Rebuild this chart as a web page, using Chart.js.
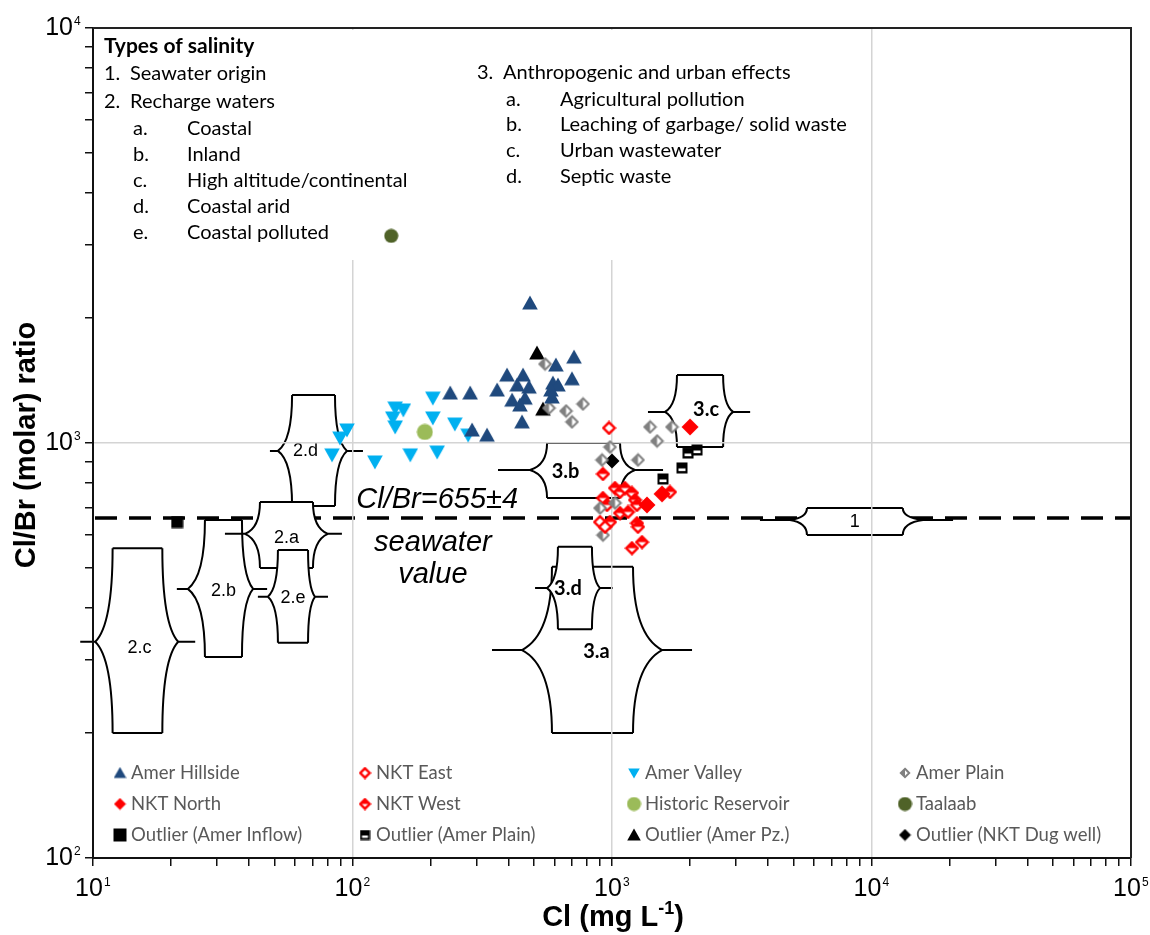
<!DOCTYPE html>
<html>
<head>
<meta charset="utf-8">
<script src="https://cdn.jsdelivr.net/npm/chart.js@4.4.1/dist/chart.umd.min.js"></script>
<style>
  html, body { margin: 0; background: #fff; }
  #wrap { width: 1150px; height: 935px; position: relative; }
</style>
</head>
<body>
<div id="wrap"><canvas id="chart"></canvas></div>
<script>
// ---- data (Cl in mg/L, Cl/Br molar ratio) ----
const amerHillside = [[483, 2175], [714, 1611], [608, 1542], [394, 1458], [454, 1458], [361, 1342], [431, 1380],
  [479, 1364], [412, 1269], [462, 1283], [442, 1235], [592, 1395], [619, 1380], [582, 1342], [587, 1291],
  [701, 1428], [450, 1124], [238, 1320], [284, 1320], [289, 1075], [330, 1045]];
const nktEast = [[974, 1087], [899, 645], [940, 628]];
const amerValley = [[95.2, 1075], [89.5, 1028], [83.4, 936], [122, 900], [167, 936], [212, 951], [248, 1111],
  [279, 1045], [204, 1149], [204, 1283], [146, 1214], [157, 1201], [143, 1149], [146, 1093]];
const amerPlain = [[552, 1550], [572, 1214], [665, 1194], [773, 1242], [701, 1124], [1401, 1093], [1703, 1093],
  [1491, 1011], [982, 978], [915, 910], [1259, 910], [899, 697], [1027, 717], [923, 600]];
const nktNorth = [[1998, 1093], [1559, 754], [1364, 709]];
const nktWest = [[923, 842], [1027, 779], [1074, 762], [1122, 779], [923, 737], [957, 709], [1194, 758],
  [1227, 729], [1248, 709], [1074, 678], [1153, 682], [982, 645], [1248, 641], [1259, 628], [1305, 577],
  [1194, 558], [1673, 762]];
const historicReservoir = [[190, 1063]];
const taalaab = [[141, 3155]];
const outlierAmerInflow = [[21.1, 645]];
const outlierAmerPlain = [[1963, 946], [2126, 962], [1861, 871], [1572, 819]];
const outlierAmerPz = [[514, 1648], [542, 1207]];
const outlierNktDugWell = [[1000, 905]];

const seawaterRatio = 660;

// salinity type zones (brace boxes)
const zoneNames  = ['2.c', '2.b', '2.d', '2.a', '2.e', '1', '3.c', '3.b', '3.a', '3.d'];
const zoneTipMin = [10.2, 23.2, 51.6, 38.5, 47.2, 4850, 1600, 483, 450, 562];
const zoneBoxMin = [11.9, 27.0, 58.5, 44.0, 51.6, 5640, 1780, 562, 587, 619];
const zoneBoxMax = [18.5, 37.5, 85.6, 70.4, 67.4, 13200, 2680, 1074, 1205, 837];
const zoneTipMax = [21.3, 41.4, 95.2, 80.4, 71.7, 15800, 2930, 1227, 1559, 899];
const zoneTop    = [558, 652, 1305, 721, 552, 697, 1458, 1000, 503, 562];
const zoneMid    = [332, 445, 957, 604, 426, 652, 1188, 861, 317, 447];
const zoneBottom = [200, 305, 705, 500, 330, 600, 978, 737, 200, 356];

// axis ticks
const xTicks = [10, 20, 30, 40, 50, 60, 70, 80, 90, 100, 200, 300, 400, 500, 600, 700, 800, 900,
  1000, 2000, 3000, 4000, 5000, 6000, 7000, 8000, 9000, 10000, 20000, 30000, 40000, 50000, 60000,
  70000, 80000, 90000, 100000];
const yTicks = [100, 200, 300, 400, 500, 600, 700, 800, 900, 1000, 2000, 3000, 4000, 5000, 6000,
  7000, 8000, 9000, 10000];
const xTickLabels = [[10, '1'], [100, '2'], [1000, '3'], [10000, '4'], [100000, '5']];
const yTickLabels = [[100, '2'], [1000, '3'], [10000, '4']];

const leftColumn = [
  ['', 'Types of salinity', true], ['1.', 'Seawater origin'], ['2.', 'Recharge waters'],
  ['a.', 'Coastal', false, true], ['b.', 'Inland', false, true], ['c.', 'High altitude/continental', false, true],
  ['d.', 'Coastal arid', false, true], ['e.', 'Coastal polluted', false, true]
];
const rightColumn = [
  ['3.', 'Anthropogenic and urban effects'], ['a.', 'Agricultural pollution', false, true],
  ['b.', 'Leaching of garbage/ solid waste', false, true], ['c.', 'Urban wastewater', false, true],
  ['d.', 'Septic waste', false, true]
];

// ---- styles ----
const zoneLabelDx = [2, 0, -8, 0, 0, 0, 6, -18, 4, -7];
const zoneLabelDy = [6, 2, 0, 4, 1, 2, -2, 2, 1, 0];
const zoneStubL = [15, 11, 8, 20, 10, 30, 17, 32, 30, 12];
const zoneStubR = [17, 14, 16, 14, 13, 30, 17, 28, 30, 13];

function makeMarker(kind, size, color) {
  const c = document.createElement('canvas');
  c.width = size; c.height = size;
  const g = c.getContext('2d');
  const s = size, m = s / 2;
  const poly = (pts) => {
    g.beginPath();
    g.moveTo(pts[0][0], pts[0][1]);
    pts.slice(1).forEach((p) => g.lineTo(p[0], p[1]));
    g.closePath();
  };
  const dia = [[m, 0.5], [s - 0.5, m], [m, s - 0.5], [0.5, m]];
  const dia2 = [[m, 1.8], [s - 1.8, m], [m, s - 1.8], [1.8, m]];
  g.fillStyle = color; g.strokeStyle = color;
  if (kind === 'up') { poly([[m, 0.5], [s - 0.2, s - 1.5], [0.2, s - 1.5]]); g.fill(); }
  else if (kind === 'down') { poly([[0.2, 1.5], [s - 0.2, 1.5], [m, s - 0.5]]); g.fill(); }
  else if (kind === 'diamond') { poly(dia); g.fill(); }
  else if (kind === 'diamondOpen') {
    poly(dia2); g.fillStyle = '#fff'; g.fill(); g.lineWidth = 2.4; g.stroke();
  } else if (kind === 'diamondHalfLeft') {
    poly(dia2); g.fillStyle = '#fff'; g.fill();
    poly([[m, 1.8], [m, s - 1.8], [1.8, m]]); g.fillStyle = color; g.fill();
    poly(dia2); g.lineWidth = 2; g.stroke();
  } else if (kind === 'diamondHalfTop') {
    poly(dia2); g.fillStyle = '#fff'; g.fill();
    poly([[1.8, m], [m, 1.8], [s - 1.8, m]]); g.fillStyle = color; g.fill();
    poly(dia2); g.lineWidth = 2.4; g.stroke();
  } else if (kind === 'circle') {
    g.beginPath(); g.arc(m, m, m - 0.5, 0, Math.PI * 2); g.fill();
  } else if (kind === 'square') {
    g.fillRect(0.5, 0.5, s - 1, s - 1);
  } else if (kind === 'squareHalf') {
    g.fillRect(0.5, 0.5, s - 1, s - 1);
    g.fillStyle = '#fff';
    g.fillRect(2.5, m + 0.5, s - 5, Math.max(2, s * 0.22));
  }
  return c;
}

const seriesNames = ['Amer Hillside', 'NKT East', 'Amer Valley', 'Amer Plain',
  'NKT North', 'NKT West', 'Historic Reservoir', 'Taalaab',
  'Outlier (Amer Inflow)', 'Outlier (Amer Plain)', 'Outlier (Amer Pz.)', 'Outlier (NKT Dug well)'];
const seriesData = [amerHillside, nktEast, amerValley, amerPlain, nktNorth, nktWest, historicReservoir,
  taalaab, outlierAmerInflow, outlierAmerPlain, outlierAmerPz, outlierNktDugWell];
const seriesMarkers = [
  makeMarker('up', 16, '#1F497D'), makeMarker('diamondOpen', 15, '#FF0000'),
  makeMarker('down', 16, '#00B0F0'), makeMarker('diamondHalfLeft', 15, '#808080'),
  makeMarker('diamond', 18, '#FF0000'), makeMarker('diamondHalfTop', 15, '#FF0000'),
  makeMarker('circle', 17, '#9BBB59'), makeMarker('circle', 15, '#4F6228'),
  makeMarker('square', 13, '#000000'), makeMarker('squareHalf', 12, '#000000'),
  makeMarker('up', 16, '#000000'), makeMarker('diamond', 16, '#000000')
];
const legendMarkers = [
  makeMarker('up', 13, '#1F497D'), makeMarker('diamondOpen', 13, '#FF0000'),
  makeMarker('down', 12, '#00B0F0'), makeMarker('diamondHalfLeft', 12, '#808080'),
  makeMarker('diamond', 13, '#FF0000'), makeMarker('diamondHalfTop', 13, '#FF0000'),
  makeMarker('circle', 15, '#9BBB59'), makeMarker('circle', 15, '#4F6228'),
  makeMarker('square', 14, '#000000'), makeMarker('squareHalf', 11, '#000000'),
  makeMarker('up', 14, '#000000'), makeMarker('diamond', 13, '#000000')
];
const legendColX = [120, 365, 634, 905];
const legendRowY = [773, 804, 835];

function isDecade(v) {
  const l = Math.log10(v);
  return Math.abs(l - Math.round(l)) < 1e-6;
}

function drawSide(ctx, c, t, yT, yM, yB) {
  const dx = t - c;
  let h = yM - yT;
  ctx.moveTo(c, yT);
  ctx.bezierCurveTo(c, yT + 0.55 * h, c + 0.35 * dx, yM - 0.12 * h, t, yM);
  h = yB - yM;
  ctx.bezierCurveTo(c + 0.35 * dx, yM + 0.12 * h, c, yB - 0.55 * h, c, yB);
}

function drawZone(ctx, xs, ys, i) {
  const tL = xs.getPixelForValue(zoneTipMin[i]);
  const cL = xs.getPixelForValue(zoneBoxMin[i]);
  const cR = xs.getPixelForValue(zoneBoxMax[i]);
  const tR = xs.getPixelForValue(zoneTipMax[i]);
  const yT = ys.getPixelForValue(zoneTop[i]);
  const yM = ys.getPixelForValue(zoneMid[i]);
  const yB = ys.getPixelForValue(zoneBottom[i]);

  // white body
  ctx.fillStyle = '#fff';
  ctx.beginPath();
  drawSide(ctx, cL, tL, yT, yM, yB);
  ctx.lineTo(cR, yB);
  ctx.lineTo(cR, yT);
  ctx.closePath();
  ctx.fill();
  ctx.beginPath();
  drawSide(ctx, cR, tR, yT, yM, yB);
  ctx.lineTo(cL, yB);
  ctx.closePath();
  ctx.fill();

  ctx.beginPath();
  ctx.moveTo(cL, yT); ctx.lineTo(cR, yT);
  ctx.moveTo(cL, yB); ctx.lineTo(cR, yB);
  drawSide(ctx, cL, tL, yT, yM, yB);
  drawSide(ctx, cR, tR, yT, yM, yB);
  ctx.moveTo(tL - zoneStubL[i], yM); ctx.lineTo(tL, yM);
  ctx.moveTo(tR, yM); ctx.lineTo(tR + zoneStubR[i], yM);
  ctx.strokeStyle = '#000';
  ctx.lineWidth = 2;
  ctx.stroke();

  const name = zoneNames[i];
  const bold = name.startsWith('3');
  ctx.font = bold ? 'bold 20px Lato' : '18px "Liberation Sans"';
  ctx.fillStyle = '#000';
  ctx.textAlign = 'center';
  ctx.textBaseline = 'middle';
  ctx.fillText(name, (cL + cR) / 2 + zoneLabelDx[i], yM + zoneLabelDy[i]);
}

function drawPow(ctx, exp, x, baseline, align) {
  ctx.font = '25px "Liberation Sans"';
  const w = ctx.measureText('10').width;
  const left = align === 'center' ? x - w / 2 - 4 : x - w;
  ctx.textAlign = 'left';
  ctx.textBaseline = 'alphabetic';
  ctx.fillText('10', left, baseline);
  ctx.font = '12px "Liberation Sans"';
  ctx.fillText(exp, left + w + 1, baseline - 10);
}

const decor = {
  id: 'decor',
  beforeDraw(chart) {
    const { ctx, chartArea: a, scales: { x, y } } = chart;
    ctx.save();
    const yy = y.getPixelForValue(seawaterRatio);
    ctx.setLineDash([22, 12]);
    ctx.lineWidth = 3.5;
    ctx.strokeStyle = '#000';
    ctx.beginPath();
    ctx.moveTo(a.left + 2, yy);
    ctx.lineTo(a.right, yy);
    ctx.stroke();
    ctx.setLineDash([]);
    zoneNames.forEach((_, i) => drawZone(ctx, x, y, i));
    ctx.restore();
  },
  beforeDatasetsDraw(chart) {
    const { ctx, chartArea: a } = chart;
    ctx.save();
    ctx.fillStyle = '#fff';
    ctx.fillRect(a.left + 2, a.top + 2, 768, 230);

    ctx.fillStyle = '#000';
    ctx.textBaseline = 'middle';
    ctx.textAlign = 'left';
    const leftY = [46, 74, 102, 129, 155, 181, 207, 233];
    leftColumn.forEach((row, i) => {
      ctx.font = row[2] ? 'bold 21px Lato' : '20px Lato';
      if (row[3]) {
        ctx.fillText(row[0], a.left + 40, leftY[i]);
        ctx.fillText(row[1], a.left + 94, leftY[i]);
      } else if (row[0]) {
        ctx.fillText(row[0], a.left + 11, leftY[i]);
        ctx.fillText(row[1], a.left + 37, leftY[i]);
      } else {
        ctx.fillText(row[1], a.left + 11, leftY[i]);
      }
    });
    const rightY = [73, 100, 125, 151, 177];
    rightColumn.forEach((row, i) => {
      ctx.font = '20px Lato';
      if (row[3]) {
        ctx.fillText(row[0], a.left + 413, rightY[i]);
        ctx.fillText(row[1], a.left + 467, rightY[i]);
      } else {
        ctx.fillText(row[0], a.left + 384, rightY[i]);
        ctx.fillText(row[1], a.left + 410, rightY[i]);
      }
    });
    ctx.restore();
  },
  afterDraw(chart) {
    const { ctx, chartArea: a, scales: { x, y } } = chart;
    ctx.save();
    // frame (top / right)
    ctx.strokeStyle = '#222';
    ctx.lineWidth = 2;
    ctx.beginPath();
    ctx.moveTo(a.left, a.top); ctx.lineTo(a.right, a.top); ctx.lineTo(a.right, a.bottom);
    ctx.stroke();

    // seawater annotation
    const yy = y.getPixelForValue(seawaterRatio);
    ctx.fillStyle = '#000';
    ctx.textAlign = 'center';
    ctx.textBaseline = 'alphabetic';
    ctx.font = 'italic 29px "Liberation Sans"';
    ctx.fillText('Cl/Br=655\u00b14', x.getPixelForValue(212), yy - 10);
    ctx.fillText('seawater', x.getPixelForValue(204), yy + 33);
    ctx.fillText('value', x.getPixelForValue(204), yy + 65);

    // tick labels
    xTickLabels.forEach(([v, e]) => drawPow(ctx, e, x.getPixelForValue(v), a.bottom + 38, 'center'));
    yTickLabels.forEach(([v, e]) => drawPow(ctx, e, 73, y.getPixelForValue(v) + 7, 'right'));

    // axis titles
    ctx.font = 'bold 29px "Liberation Sans"';
    ctx.textAlign = 'center';
    ctx.textBaseline = 'middle';
    ctx.save();
    ctx.translate(27, 445);
    ctx.rotate(-Math.PI / 2);
    ctx.fillText('Cl/Br (molar) ratio', 0, 0);
    ctx.restore();

    const parts = [['Cl (mg L', 29, 0], ['-1', 18, -12], [')', 29, 0]];
    let total = 0;
    parts.forEach((p) => { ctx.font = `bold ${p[1]}px "Liberation Sans"`; total += ctx.measureText(p[0]).width; });
    let px = 613 - total / 2;
    ctx.textAlign = 'left';
    ctx.textBaseline = 'alphabetic';
    parts.forEach((p) => {
      ctx.font = `bold ${p[1]}px "Liberation Sans"`;
      ctx.fillText(p[0], px, 926 + p[2]);
      px += ctx.measureText(p[0]).width;
    });

    // legend
    ctx.font = '18.5px Lato';
    ctx.fillStyle = '#595959';
    ctx.textBaseline = 'middle';
    seriesNames.forEach((name, i) => {
      const mx = legendColX[i % 4];
      const my = legendRowY[Math.floor(i / 4)];
      const mk = legendMarkers[i];
      ctx.drawImage(mk, mx - mk.width / 2, my - mk.height / 2);
      ctx.fillText(name, mx + 11, my);
    });
    ctx.restore();
  }
};

const datasets = seriesNames.map((name, i) => ({
  label: name,
  data: seriesData[i].map(([cl, r]) => ({ x: cl, y: r })),
  pointStyle: seriesMarkers[i],
  pointRadius: 6,
  showLine: false
}));

new Chart(document.getElementById('chart'), {
  type: 'scatter',
  data: { datasets },
  options: {
    responsive: true,
    maintainAspectRatio: false,
    animation: false,
    layout: { padding: { top: 28, right: 19, left: 0, bottom: 0 } },
    plugins: { legend: { display: false }, tooltip: { enabled: false } },
    scales: {
      x: {
        type: 'logarithmic',
        position: 'bottom',
        min: 10,
        max: 100000,
        afterBuildTicks: (scale) => { scale.ticks = xTicks.map((v) => ({ value: v })); },
        afterFit: (scale) => { scale.height = 77; },
        ticks: { display: false },
        border: { display: true, color: '#111', width: 2 },
        grid: {
          color: (c) => (c.tick && isDecade(c.tick.value) ? '#d4d4d4' : 'rgba(0,0,0,0)'),
          lineWidth: 1.5,
          tickColor: '#111',
          tickLength: 8,
          tickWidth: 1.5
        }
      },
      y: {
        type: 'logarithmic',
        min: 100,
        max: 10000,
        afterBuildTicks: (scale) => { scale.ticks = yTicks.map((v) => ({ value: v })); },
        afterFit: (scale) => { scale.width = 93; },
        ticks: { display: false },
        border: { display: true, color: '#111', width: 2 },
        grid: {
          color: (c) => (c.tick && isDecade(c.tick.value) ? '#d4d4d4' : 'rgba(0,0,0,0)'),
          lineWidth: 1.5,
          tickColor: '#111',
          tickLength: 8,
          tickWidth: 1.5
        }
      }
    }
  },
  plugins: [decor]
});
</script>
</body>
</html>
